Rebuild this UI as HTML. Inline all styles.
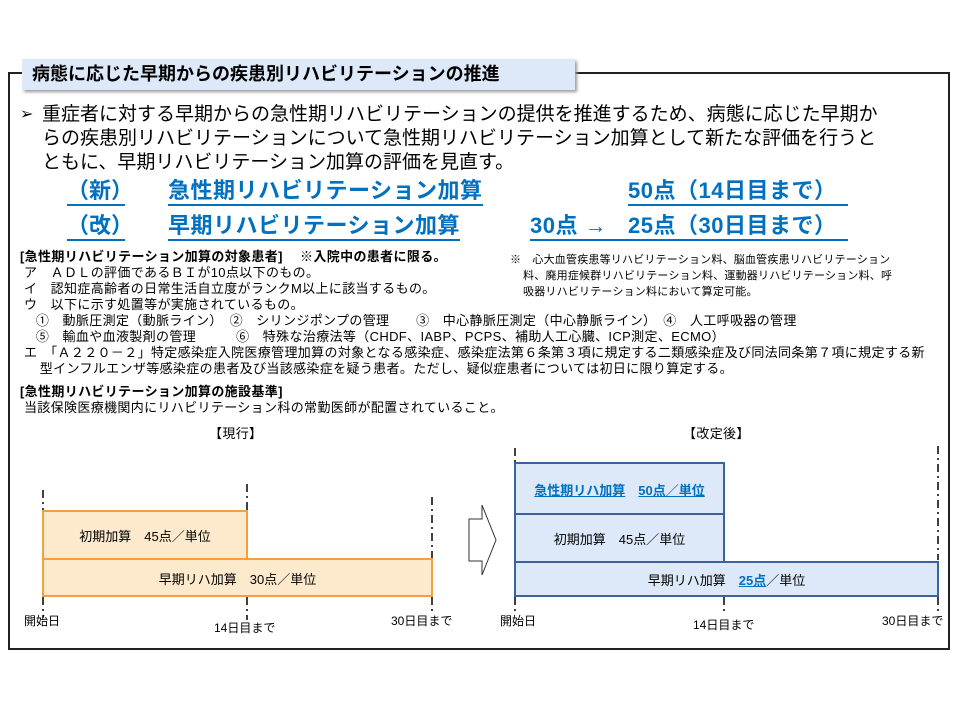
<!DOCTYPE html>
<html><head><meta charset="utf-8"><style>
body{margin:0;width:960px;height:720px;background:#fff;position:relative;overflow:hidden;font-family:"Liberation Sans","Noto Sans CJK JP",sans-serif;color:#000}
.a{position:absolute;white-space:nowrap}
.s{font-size:13px;line-height:16px;letter-spacing:0.35px}
.b{color:#0070c0;font-weight:bold;font-size:22px;line-height:26px;border-bottom:2px solid #0070c0}
</style></head><body>
<div class="a" style="left:8px;top:72px;width:942px;height:578px;border:2px solid #222;box-sizing:border-box"></div>
<div class="a" style="left:22px;top:59px;width:553px;height:31px;background:#dde8f8;box-shadow:2px 2px 3px #999;font-weight:bold;font-size:18px;line-height:31px;padding-left:10px;box-sizing:border-box">病態に応じた早期からの疾患別リハビリテーションの推進</div>
<div class="a" style="left:20px;top:104px;font-size:16px">➢</div>
<div class="a" style="left:42px;top:103px;font-size:19px;line-height:24px">重症者に対する早期からの急性期リハビリテーションの提供を推進するため、病態に応じた早期か<br>らの疾患別リハビリテーションについて急性期リハビリテーション加算として新たな評価を行うと<br>ともに、早期リハビリテーション加算の評価を見直す。</div>
<div class="a b" style="left:67px;top:178px;width:58px;text-align:center">（新）</div>
<div class="a b" style="left:168px;top:178px;letter-spacing:0.5px">急性期リハビリテーション加算</div>
<div class="a b" style="left:628px;top:178px;width:220px;letter-spacing:0.5px">50点（14日目まで）</div>
<div class="a b" style="left:67px;top:213px;width:58px;text-align:center">（改）</div>
<div class="a b" style="left:168px;top:213px;letter-spacing:0.5px">早期リハビリテーション加算</div>
<div class="a b" style="left:530px;top:213px;width:318px;letter-spacing:0.5px">30点 →</div>
<div class="a" style="left:628px;top:213px;color:#0070c0;font-weight:bold;font-size:22px;line-height:26px;letter-spacing:0.5px">25点（30日目まで）</div>
<div class="a s" style="left:20px;top:249px"><b>[急性期リハビリテーション加算の対象患者]　 ※入院中の患者に限る。</b><br>&nbsp;ア　ＡＤＬの評価であるＢＩが10点以下のもの。<br>&nbsp;イ　認知症高齢者の日常生活自立度がランクM以上に該当するもの。<br>&nbsp;ウ　以下に示す処置等が実施されているもの。<br>&nbsp;&nbsp;&nbsp;&nbsp;①　動脈圧測定（動脈ライン）　②　シリンジポンプの管理　　③　中心静脈圧測定（中心静脈ライン）　④　人工呼吸器の管理<br>&nbsp;&nbsp;&nbsp;&nbsp;⑤　輸血や血液製剤の管理　　　⑥　特殊な治療法等（CHDF、IABP、PCPS、補助人工心臓、ICP測定、ECMO）<br>&nbsp;エ　「Ａ２２０－２」特定感染症入院医療管理加算の対象となる感染症、感染症法第６条第３項に規定する二類感染症及び同法同条第７項に規定する新<br>&nbsp;&nbsp;&nbsp;&nbsp;&nbsp;型インフルエンザ等感染症の患者及び当該感染症を疑う患者。ただし、疑似症患者については初日に限り算定する。</div>
<div class="a s" style="left:20px;top:384px"><b>[急性期リハビリテーション加算の施設基準]</b><br>&nbsp;当該保険医療機関内にリハビリテーション科の常勤医師が配置されていること。</div>
<div class="a s" style="left:510px;top:252px;font-size:11px;line-height:16px;letter-spacing:0.2px">※　心大血管疾患等リハビリテーション料、脳血管疾患リハビリテーション<br>&nbsp;&nbsp;&nbsp;&nbsp;料、廃用症候群リハビリテーション料、運動器リハビリテーション料、呼<br>&nbsp;&nbsp;&nbsp;&nbsp;吸器リハビリテーション料において算定可能。</div>
<div class="a s" style="left:209px;top:426px;font-size:13px">【現行】</div>
<div class="a s" style="left:683px;top:426px;font-size:13px">【改定後】</div>
<svg class="a" style="left:0;top:0" width="960" height="720">
<g stroke="#000" stroke-width="1.5" stroke-dasharray="8,4,2,4" fill="none">
<line x1="43" y1="490" x2="43" y2="510"/><line x1="43" y1="597" x2="43" y2="618"/>
<line x1="247" y1="484" x2="247" y2="510"/><line x1="247" y1="597" x2="247" y2="620"/>
<line x1="432" y1="497" x2="432" y2="560"/><line x1="432" y1="597" x2="432" y2="612"/>
<line x1="515" y1="448" x2="515" y2="462"/><line x1="515" y1="597" x2="515" y2="612"/>
<line x1="938" y1="446" x2="938" y2="560"/><line x1="938" y1="597" x2="938" y2="612"/>
<line x1="724" y1="597" x2="724" y2="612"/>
</g>
<g fill="#fde9cc" stroke="#f5a040" stroke-width="2">
<rect x="43" y="511" width="204" height="48"/><rect x="43" y="559" width="389" height="37"/>
</g>
<polygon points="469,519 482,519 482,505 496,540 482,575 482,561 469,561" fill="#fff" stroke="#333" stroke-width="1"/>
<g fill="#dde9f8" stroke="#3a64a0" stroke-width="2">
<rect x="515" y="463" width="209" height="51"/><rect x="515" y="514" width="209" height="48"/><rect x="515" y="562" width="423" height="34"/>
</g>
</svg>
<div class="a" style="left:43px;top:526px;width:204px;text-align:center;font-size:13px">初期加算　45点／単位</div>
<div class="a" style="left:43px;top:569px;width:389px;text-align:center;font-size:13px">早期リハ加算　30点／単位</div>
<div class="a" style="left:515px;top:480px;width:209px;text-align:center;font-size:13px;color:#0070c0;font-weight:bold"><u>急性期リハ加算</u>　<u>50点／単位</u></div>
<div class="a" style="left:515px;top:529px;width:209px;text-align:center;font-size:13px">初期加算　45点／単位</div>
<div class="a" style="left:515px;top:570px;width:423px;text-align:center;font-size:13px">早期リハ加算　<b style="color:#0070c0"><u>25点</u></b>／単位</div>
<div class="a s" style="left:24px;top:613px;font-size:12px;letter-spacing:0">開始日</div>
<div class="a s" style="left:214px;top:620px;font-size:12px;letter-spacing:0">14日目まで</div>
<div class="a s" style="left:391px;top:613px;font-size:12px;letter-spacing:0">30日目まで</div>
<div class="a s" style="left:500px;top:613px;font-size:12px;letter-spacing:0">開始日</div>
<div class="a s" style="left:693px;top:617px;font-size:12px;letter-spacing:0">14日目まで</div>
<div class="a s" style="left:882px;top:613px;font-size:12px;letter-spacing:0">30日目まで</div>
</body></html>
